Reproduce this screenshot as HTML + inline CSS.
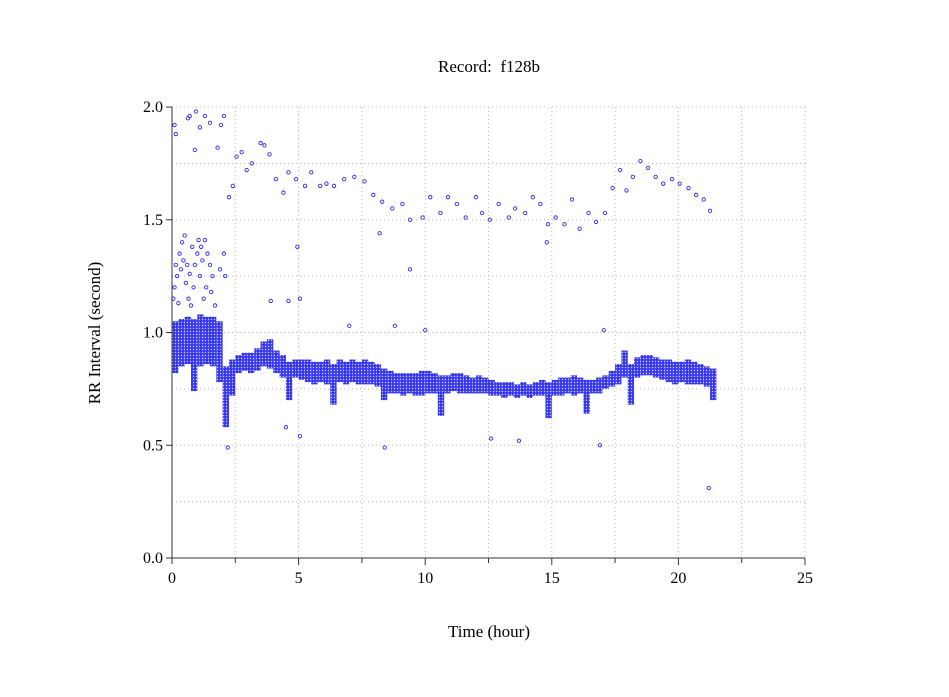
<!DOCTYPE html>
<html><head><meta charset="utf-8"><style>
body{margin:0;background:#fff}
svg{display:block;font-family:"Liberation Serif",serif}
</style></head><body>
<svg id="chart" width="949" height="697">
<defs>
<pattern id="dots" width="3" height="3" patternUnits="userSpaceOnUse">
<rect width="3" height="3" fill="#3535f0"/>
<circle cx="1.5" cy="1.5" r="0.7" fill="#d0d0ff"/>
</pattern>
</defs>
<text x="489" y="72" font-size="17" text-anchor="middle">Record:&#160; f128b</text>
<text x="489" y="637" font-size="17" text-anchor="middle">Time (hour)</text>
<text transform="translate(100,333) rotate(-90)" font-size="17" text-anchor="middle">RR Interval (second)</text>
<g id="grid"></g><g id="band"></g><g id="pts"></g><g id="axes"></g>
</svg>
<script>
const xTicks=[0,5,10,15,20,25];
const yTicks=["0.0","0.5","1.0","1.5","2.0"];
const bandT=[0,0.25,0.5,0.75,1,1.25,1.5,1.75,2,2.25,2.5,2.75,3,3.25,3.5,3.75,4,4.25,4.5,4.75,5,5.25,5.5,5.75,6,6.25,6.5,6.75,7,7.25,7.5,7.75,8,8.25,8.5,8.75,9,9.25,9.5,9.75,10,10.25,10.5,10.75,11,11.25,11.5,11.75,12,12.25,12.5,12.75,13,13.25,13.5,13.75,14,14.25,14.5,14.75,15,15.25,15.5,15.75,16,16.25,16.5,16.75,17,17.25,17.5,17.75,18,18.25,18.5,18.75,19,19.25,19.5,19.75,20,20.25,20.5,20.75,21,21.25];
const bandLo=[.82,.85,.86,.74,.85,.86,.85,.78,.58,.72,.82,.83,.82,.83,.85,.84,.82,.8,.7,.8,.79,.78,.77,.78,.77,.68,.78,.77,.78,.77,.77,.77,.76,.7,.73,.73,.72,.73,.72,.72,.73,.73,.63,.73,.74,.73,.73,.73,.73,.73,.72,.72,.71,.72,.71,.72,.71,.72,.72,.62,.72,.72,.73,.72,.73,.64,.73,.73,.75,.76,.77,.8,.68,.8,.81,.81,.8,.79,.78,.77,.78,.77,.77,.77,.76,.7];
const bandHi=[1.05,1.06,1.07,1.06,1.08,1.07,1.07,1.05,.85,.88,.9,.91,.91,.93,.96,.97,.92,.9,.87,.88,.88,.88,.87,.87,.88,.86,.88,.87,.88,.87,.88,.87,.86,.84,.83,.82,.82,.82,.82,.83,.83,.82,.81,.81,.82,.82,.81,.8,.81,.8,.79,.78,.78,.78,.77,.78,.77,.78,.79,.78,.79,.8,.8,.81,.8,.79,.79,.8,.81,.83,.86,.92,.86,.89,.9,.9,.89,.88,.88,.87,.87,.88,.87,.86,.85,.84];
const ptT=[0.1,0.15,0.63,0.7,0.95,1.1,1.3,1.5,1.8,2.05,1.93,0.9,
2.25,2.4,2.55,2.75,2.95,3.15,3.5,3.65,3.85,4.1,4.4,4.6,4.9,5.25,5.5,5.85,6.1,6.4,6.8,7.2,7.6,7.95,8.3,8.7,9.1,9.4,9.9,10.2,10.6,10.9,11.25,11.6,12,12.25,12.55,12.9,13.3,13.55,13.95,14.25,14.55,14.85,15.15,15.5,15.8,16.1,16.45,16.75,17.1,17.4,17.7,17.95,18.2,18.5,18.8,19.1,19.4,19.75,20.05,20.4,20.7,21,21.25,
4.95,5.05,9.4,17.05,14.8,8.2,4.5,5.05,8.4,2.2,21.2,16.9,12.6,13.7,4.6,7,10,8.8,3.9,
0.1,0.15,0.2,0.3,0.35,0.4,0.45,0.5,0.55,0.6,0.65,0.7,0.8,0.85,0.9,1,1.05,1.1,1.15,1.2,1.3,1.35,1.4,1.5,1.55,1.6,1.7,0.25,0.75,1.25,0.05,1.9,2.1,2.05];
const ptV=[1.92,1.88,1.95,1.96,1.98,1.91,1.96,1.93,1.82,1.96,1.92,1.81,
1.6,1.65,1.78,1.8,1.72,1.75,1.84,1.83,1.79,1.68,1.62,1.71,1.68,1.65,1.71,1.65,1.66,1.65,1.68,1.69,1.67,1.61,1.58,1.55,1.57,1.5,1.51,1.6,1.53,1.6,1.57,1.51,1.6,1.53,1.5,1.57,1.51,1.55,1.53,1.6,1.57,1.48,1.51,1.48,1.59,1.46,1.53,1.49,1.53,1.64,1.72,1.63,1.69,1.76,1.73,1.69,1.66,1.68,1.66,1.64,1.61,1.59,1.54,
1.38,1.15,1.28,1.01,1.4,1.44,0.58,0.54,0.49,0.49,0.31,0.5,0.53,0.52,1.14,1.03,1.01,1.03,1.14,
1.2,1.3,1.25,1.35,1.28,1.4,1.32,1.43,1.22,1.3,1.15,1.26,1.38,1.2,1.3,1.35,1.41,1.25,1.38,1.32,1.41,1.2,1.35,1.3,1.18,1.25,1.12,1.13,1.12,1.15,1.15,1.28,1.25,1.35];
const NS='http://www.w3.org/2000/svg';
const X0=172,X1=805,Y0=558,Y1=107;
function sx(t){return X0+(t/25)*(X1-X0);}
function sy(v){return Y0-(v/2)*(Y0-Y1);}
function mk(tag,attrs,parent){const e=document.createElementNS(NS,tag);for(const k in attrs)e.setAttribute(k,attrs[k]);parent.appendChild(e);return e;}
const grid=document.getElementById('grid'),axes=document.getElementById('axes'),band=document.getElementById('band'),pts=document.getElementById('pts');
for(let i=1;i<=10;i++){const x=sx(i*2.5);
const g=mk('line',{x1:x,x2:x,y1:Y1,y2:Y0,stroke:'#bbb','stroke-dasharray':'1,3'},grid);


const tk=mk('line',{x1:x,x2:x,y1:Y0,y2:Y0+(i%2?5:7),stroke:'#333'},axes);

}
for(let i=1;i<=8;i++){const y=sy(i*0.25);
const g=mk('line',{x1:X0,x2:X1,y1:y,y2:y,stroke:'#bbb','stroke-dasharray':'1,3'},grid);


const tk=mk('line',{x1:X0-(i%2?0:6),x2:X0,y1:y,y2:y,stroke:'#333'},axes);

}
xTicks.forEach(t=>{const l=mk('text',{x:sx(t),y:Y0+25,'font-size':16,'text-anchor':'middle'},axes);l.textContent=t;

});
yTicks.forEach(v=>{const l=mk('text',{x:X0-9,y:sy(+v)+5,'font-size':16,'text-anchor':'end'},axes);l.textContent=v;

});
const ya=mk('line',{x1:X0,x2:X0,y1:Y1,y2:Y0+6,stroke:'#333'},axes);


const xa=mk('line',{x1:X0-6,x2:X1,y1:Y0,y2:Y0,stroke:'#333'},axes);


bandT.forEach((t,i)=>{const x=sx(t),w=sx(t+0.25)-x;
const r=mk('rect',{x:x,y:sy(bandHi[i]),width:w,height:sy(bandLo[i])-sy(bandHi[i]),fill:'url(#dots)'},band);

});
ptT.forEach((t,i)=>{const c=mk('circle',{cx:sx(t),cy:sy(ptV[i]),r:1.7,fill:'none',stroke:'#2a2af0','stroke-width':0.9},pts);

});
</script>
</body></html>
